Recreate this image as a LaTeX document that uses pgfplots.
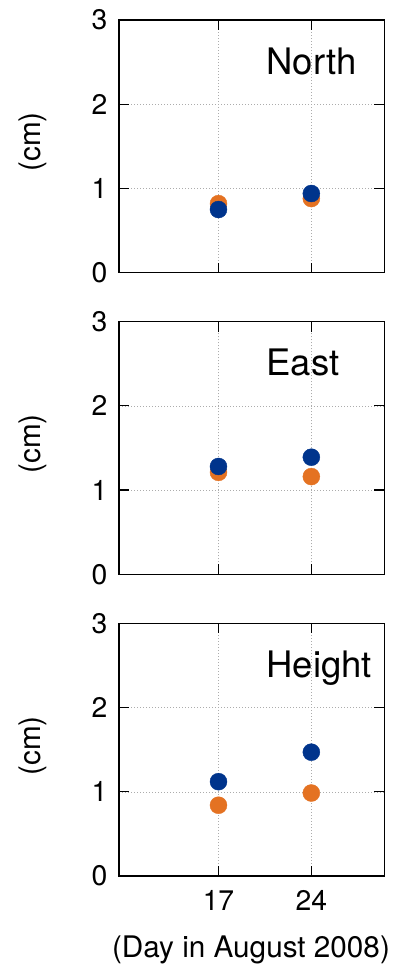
\documentclass[border=0pt]{standalone}
\usepackage{fontspec}
\setmainfont{TeX Gyre Heros}
\usepackage{pgfplots}
\pgfplotsset{compat=1.18}

\definecolor{myblue}{RGB}{0,52,140}
\definecolor{myorange}{RGB}{228,114,34}

\pgfplotsset{panel/.style={
  scale only axis, width=265.3pt, height=252.7pt,
  xmin=9.5, xmax=29.5, ymin=0, ymax=3,
  xtick={17,24}, ytick={0,1,2,3},
  tick align=inside, major tick length=10pt,
  grid=major, grid style={gray!65, line width=0.5pt, dash pattern=on 1pt off 2pt},
  axis line style={line width=1.2pt},
  every tick/.style={black, line width=1.2pt},
  /pgf/number format/assume math mode=true,
  ticklabel style={font=\fontsize{28.3}{30}\selectfont},
  yticklabel style={xshift=-8pt},
  xticklabel style={yshift=-11pt},
  anchor=south west,
}}
\tikzset{orangemark/.style={only marks, mark=*, mark size=8.5pt, color=myorange, mark options={draw=myorange, fill=myorange}},
         bluemark/.style={only marks, mark=*, mark size=8.5pt, color=myblue, mark options={draw=myblue, fill=myblue}},
         paneltitle/.style={anchor=base west, font=\fontsize{36.5}{40}\selectfont}}

\begin{document}
\begin{tikzpicture}
\path[use as bounding box] (0,0) rectangle (394pt,969pt);

% North
\begin{axis}[panel, at={(119pt,696.3pt)}, xticklabels={}]
\addplot[orangemark] coordinates {(17,0.82) (24,0.88)};
\addplot[bluemark] coordinates {(17,0.75) (24,0.94)};
\node[paneltitle] at (rel axis cs:0.543,0.786) {North};
\end{axis}

% East
\begin{axis}[panel, at={(119pt,394.7pt)}, xticklabels={}]
\addplot[orangemark] coordinates {(17,1.21) (24,1.16)};
\addplot[bluemark] coordinates {(17,1.28) (24,1.39)};
\node[paneltitle] at (rel axis cs:0.543,0.786) {East};
\end{axis}

% Height
\begin{axis}[panel, at={(119pt,93pt)}]
\addplot[orangemark] coordinates {(17,0.84) (24,0.985)};
\addplot[bluemark] coordinates {(17,1.12) (24,1.47)};
\node[paneltitle] at (rel axis cs:0.543,0.786) {Height};
\end{axis}

\node[rotate=90, font=\fontsize{29.7}{31}\selectfont] at (33pt,827pt) {(cm)};
\node[rotate=90, font=\fontsize{29.7}{31}\selectfont] at (33pt,525pt) {(cm)};
\node[rotate=90, font=\fontsize{29.7}{31}\selectfont] at (33pt,223pt) {(cm)};
\node[anchor=base, font=\fontsize{29.7}{31}\selectfont] at (251pt,12pt) {(Day in August 2008)};
\end{tikzpicture}
\end{document}
